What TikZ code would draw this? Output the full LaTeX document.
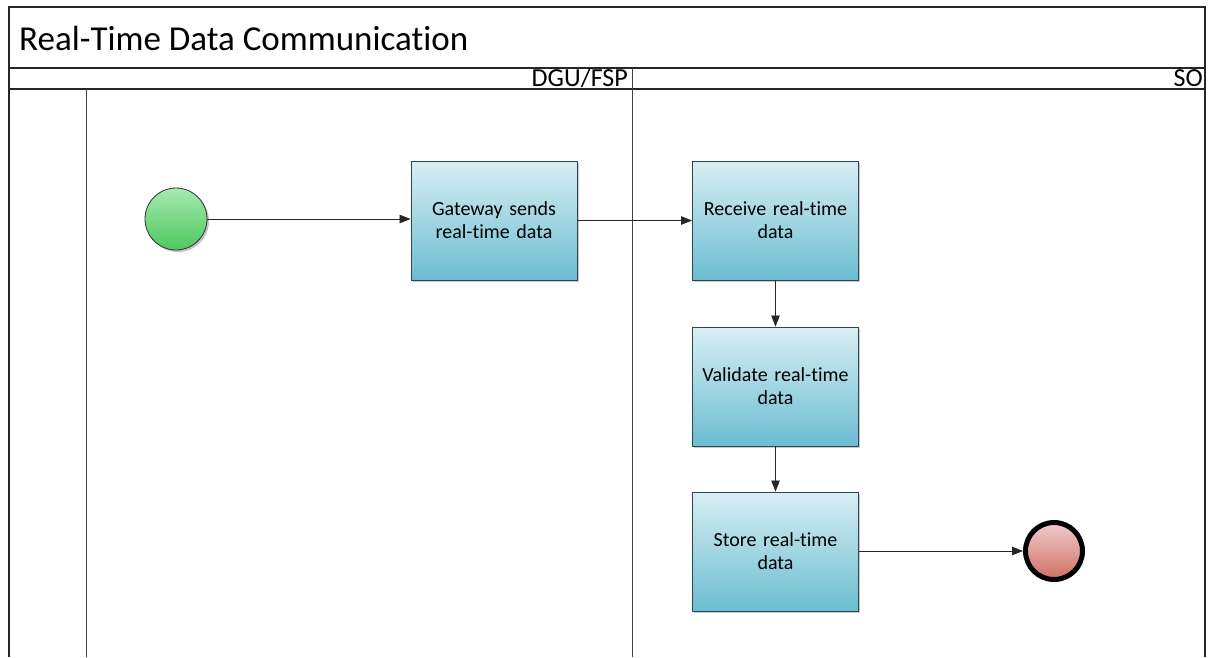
\documentclass[tikz,border=0pt]{standalone}
\usepackage{fontspec}
\setmainfont{Carlito}[Ligatures={NoCommon}]
\usetikzlibrary{arrows.meta,shadows}
\definecolor{boxtop}{HTML}{D8EEF3}
\definecolor{boxbot}{HTML}{6BBDD1}
\definecolor{boxline}{HTML}{2E4650}
\definecolor{gtop}{HTML}{A6EAAF}
\definecolor{gbot}{HTML}{4FC65E}
\definecolor{rtop}{HTML}{F0CCCC}
\definecolor{rbot}{HTML}{CF6F62}
\tikzset{
  task/.style={draw=boxline, line width=0.9pt, top color=boxtop, bottom color=boxbot,
    minimum width=166pt, minimum height=119pt, inner sep=0pt, align=center,
    font=\fontsize{20}{23}\selectfont, text width=160pt,
    drop shadow={shadow xshift=1.5pt, shadow yshift=-1.5pt, fill=black!35, opacity=0.6}},
  startev/.style={circle, draw=black!80, line width=0.8pt, top color=gtop, bottom color=gbot,
    minimum size=62pt, inner sep=0pt,
    drop shadow={shadow xshift=2pt, shadow yshift=-2pt, fill=black!40, opacity=0.6}},
  endev/.style={circle, draw=black, line width=5pt, top color=rtop, bottom color=rbot,
    minimum size=57pt, inner sep=0pt,
    drop shadow={shadow xshift=2pt, shadow yshift=-2pt, fill=black!40, opacity=0.6}},
  flow/.style={draw=black!85, line width=0.8pt, -{Triangle[length=11pt,width=8.5pt]}},
  frame/.style={draw=black!85, line width=1.2pt},
  lane/.style={draw=black!75, line width=0.9pt},
  lanelabel/.style={font=\fontsize{26}{30}\selectfont, anchor=east, inner sep=0pt}
}
\begin{document}
\begin{tikzpicture}[x=1pt,y=-1pt]
\useasboundingbox (0,0) rectangle (1210,657);
% frame
\draw[frame] (9,657) -- (9,7) -- (1205,7) -- (1205,657);
\draw[frame] (9,68) -- (1205,68);
\draw[frame] (9,89) -- (1205,89);
\draw[lane] (86,89) -- (86,657);
\draw[lane] (632,68) -- (632,657);
% title and lane labels
\node[anchor=west, inner sep=0pt, font=\fontsize{35}{40}\selectfont] (title) at (19,38) {Real-Time Data Communication};
\node[lanelabel] (lab1) at (628,78.5) {DGU/FSP};
\node[lanelabel] (lab2) at (1203,78.5) {SO};
% nodes
\node[startev] (start) at (176,219) {};
\node[task] (g) at (494,220.5) {Gateway sends\\real-time data};
\node[task] (r) at (775.5,220.5) {Receive real-time\\data};
\node[task] (v) at (775.5,386.5) {Validate real-time\\data};
\node[task] (s) at (775.5,551.5) {Store real-time\\data};
\node[endev] (end) at (1054,551) {};
% flows
\draw[flow] (start.east) -- (start.east -| g.west);
\draw[flow] (g.east) -- (r.west);
\draw[flow] (r.south) -- (v.north);
\draw[flow] (v.south) -- (s.north);
\draw[flow] (s.east |- end.west) -- (end.west);
\end{tikzpicture}
\end{document}
